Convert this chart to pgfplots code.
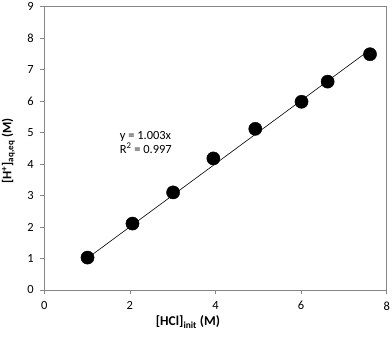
\documentclass[border=0pt]{standalone}
\usepackage{fontspec}
\setmainfont{Carlito}
\usepackage{pgfplots}
\pgfplotsset{compat=1.18}
\definecolor{axgray}{RGB}{134,134,134}

\begin{document}
\begin{tikzpicture}
\begin{axis}[
    scale only axis,
    width=342.4bp, height=283.3bp,
    anchor=origin, at={(0,0)},
    xmin=0, xmax=8, ymin=0, ymax=9,
    xtick={0,2,...,8}, ytick={0,1,...,9},
    tick align=outside,
    xtick pos=bottom, ytick pos=left,
    major tick length=4bp,
    axis line style={draw=axgray, line width=0.9pt},
    tick style={draw=axgray, line width=0.8pt},
    tick label style={font=\fontsize{12.5}{13}\selectfont},
    /pgf/number format/assume math mode=true,
    xticklabel style={yshift=-4bp},
    yticklabel style={xshift=-3bp},
    clip=false,
]
% trendline y = 1.003x
\addplot[black, line width=0.6pt, no marks] coordinates {(1.0,1.003) (7.6,7.623)};
\addplot[only marks, mark=*, mark size=6.6bp, mark options={fill=black, draw=black}] coordinates {
  (1.01,1.03) (2.06,2.11) (3.01,3.10) (3.95,4.18) (4.93,5.12) (6.01,5.98) (6.62,6.62) (7.61,7.49)
};
\node[anchor=west, font=\fontsize{12.5}{14}\selectfont, align=left, inner sep=0pt] at (axis cs:1.76,4.70)
  {y = 1.003x\\R\textsuperscript{2} = 0.997};
\end{axis}
\node[font=\bfseries\fontsize{13.5}{14}\selectfont] at (143.7bp,-32bp) {[HCl]\textsubscript{init} (M)};
\node[rotate=90, font=\bfseries\fontsize{13}{14}\selectfont] at (-36bp,139bp) {[H\textsuperscript{+}]\textsubscript{aq,eq} (M)};
\pgfresetboundingbox
\path (-44.3bp,-54bp) rectangle (347.7bp,290bp);
\end{tikzpicture}
\end{document}
